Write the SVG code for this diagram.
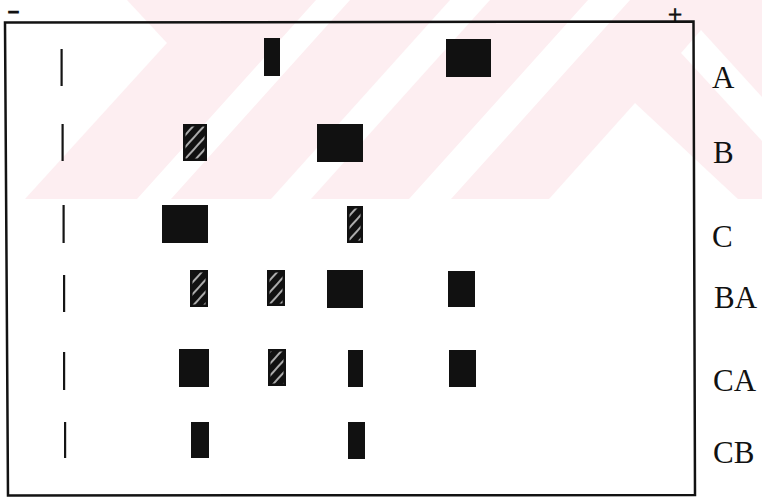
<svg xmlns="http://www.w3.org/2000/svg" width="762" height="497" viewBox="0 0 762 497">
  <defs>
    <style>
      .wm { fill: #fdeef1; }
      .wh { fill: #ffffff; }
      .frame { fill: none; stroke: #121212; stroke-width: 2.5; stroke-linejoin: miter; }
      .mk { fill: #151515; }
      .band { fill: #111111; }
      .hatch { fill: url(#hatch); }
      .lbl { font-family: "Liberation Serif", "Times New Roman", serif; font-size: 31px; fill: #111111; }
      .sign { font-family: "Liberation Serif", "Times New Roman", serif; fill: #111111; stroke: #111111; }
    </style>
    <pattern id="hatch" width="10" height="8" patternUnits="userSpaceOnUse" patternTransform="rotate(-48)">
      <rect width="10" height="8" fill="#111111"/>
      <line x1="0" y1="4" x2="10" y2="4" stroke="#ffffff" stroke-width="1.3"/>
    </pattern>
  </defs>

  <rect width="762" height="497" fill="#ffffff"/>

  <g id="watermark">
    <rect class="wm" x="0" y="0" width="762" height="199"/>
    <polygon class="wh" points="0,0 127,0 167,43 25,199 0,199"/>
    <polygon class="wh" points="316,0 350,0 171,199 137,199"/>
    <polygon class="wh" points="450,0 490,0 311,199 271,199"/>
    <polygon class="wh" points="588,0 630,0 451,199 409,199"/>
    <polygon class="wh" points="635,103 738,199 549,199"/>
    <polygon class="wh" points="701,30 762,97 762,141 681,53"/>
  </g>

  <g id="frame">
    <path class="frame" d="M5,22.5 L693.5,21.5 L695,495 L8,495.5 Z"/>
    <text class="sign" x="8" y="17" font-size="18" font-weight="bold" stroke-width="1.2" textLength="11" lengthAdjust="spacingAndGlyphs">-</text>
    <text class="sign" x="675" y="22.5" font-size="25" stroke-width="0.8" text-anchor="middle">+</text>
  </g>

  <g id="lane-A">
    <rect class="mk" x="60.5" y="49" width="2.2" height="37"/>
    <rect class="band" x="264" y="38" width="16" height="38"/>
    <rect class="band" x="446" y="39" width="45" height="38"/>
    <text class="lbl" x="712" y="88">A</text>
  </g>

  <g id="lane-B">
    <rect class="mk" x="61.5" y="124" width="2.2" height="37"/>
    <rect class="band" x="183" y="124" width="24" height="37"/>
    <rect class="hatch" x="185.5" y="126.5" width="19" height="32"/>
    <rect class="band" x="317" y="124" width="46" height="38"/>
    <text class="lbl" x="713" y="163">B</text>
  </g>

  <g id="lane-C">
    <rect class="mk" x="62.5" y="205" width="2.2" height="38"/>
    <rect class="band" x="162" y="205" width="46" height="38"/>
    <rect class="band" x="347" y="206" width="16" height="37"/>
    <rect class="hatch" x="349.5" y="208.5" width="11" height="32"/>
    <text class="lbl" x="712" y="247">C</text>
  </g>

  <g id="lane-BA">
    <rect class="mk" x="63" y="275" width="2.2" height="37"/>
    <rect class="band" x="190" y="270" width="18" height="37"/>
    <rect class="hatch" x="192.5" y="272.5" width="13" height="32"/>
    <rect class="band" x="267" y="270" width="18" height="36"/>
    <rect class="hatch" x="269.5" y="272.5" width="13" height="31"/>
    <rect class="band" x="327" y="270" width="36" height="38"/>
    <rect class="band" x="448" y="271" width="27" height="36"/>
    <text class="lbl" x="714" y="308">BA</text>
  </g>

  <g id="lane-CA">
    <rect class="mk" x="63" y="352" width="2.2" height="38"/>
    <rect class="band" x="179" y="349" width="30" height="38"/>
    <rect class="band" x="268" y="349" width="18" height="37"/>
    <rect class="hatch" x="270.5" y="351.5" width="13" height="32"/>
    <rect class="band" x="348" y="350" width="15" height="37"/>
    <rect class="band" x="449" y="350" width="27" height="37"/>
    <text class="lbl" x="713" y="391">CA</text>
  </g>

  <g id="lane-CB">
    <rect class="mk" x="64" y="422" width="2.2" height="36"/>
    <rect class="band" x="191" y="422" width="18" height="36"/>
    <rect class="band" x="348" y="422" width="17" height="37"/>
    <text class="lbl" x="713" y="463">CB</text>
  </g>
</svg>
